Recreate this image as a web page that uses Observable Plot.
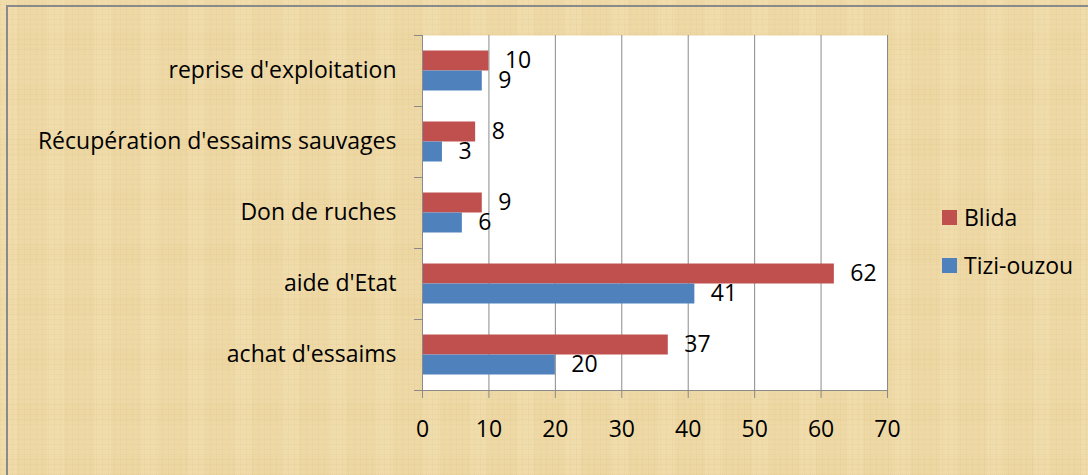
<!DOCTYPE html>
<html>
<head>
<meta charset="utf-8">
<script src="https://cdn.jsdelivr.net/npm/d3@7"></script>
<script src="https://cdn.jsdelivr.net/npm/@observablehq/plot@0.6"></script>
<style>
  html, body { margin: 0; padding: 0; width: 1088px; height: 475px; overflow: hidden; }
  body { background: #eed9a6; position: relative; font-family: "Open Sans", Lato, sans-serif; }
  #bg {
    position: absolute; left: 0; top: 0; width: 1088px; height: 475px;
    background-color: #eed9a6;
    background-image:
      repeating-linear-gradient(0deg, rgba(190,150,80,0.06) 0px, rgba(190,150,80,0.06) 1px, transparent 1px, transparent 5px),
      repeating-linear-gradient(90deg, rgba(190,150,80,0.06) 0px, rgba(190,150,80,0.06) 1px, transparent 1px, transparent 6px),
      repeating-linear-gradient(90deg, rgba(255,240,205,0.14) 0px, rgba(255,240,205,0.14) 17px, transparent 17px, transparent 47px),
      repeating-linear-gradient(0deg, rgba(215,180,110,0.06) 0px, rgba(215,180,110,0.06) 19px, transparent 19px, transparent 53px);
  }
  #border { position: absolute; left: 6px; top: 5px; width: 1090px; height: 480px; border-left: 2px solid #8a8a8a; border-top: 2px solid #8a8a8a; }
  #chart { position: absolute; left: 0; top: 0; }
  #legend { position: absolute; left: 942px; top: 202px; font-family: "Open Sans", sans-serif; font-size: 23px; color: #000; }
  #legend .item { display: flex; align-items: center; height: 30px; margin-bottom: 18px; }
  #legend .sw { width: 15px; height: 15px; margin-right: 7px; }
</style>
</head>
<body>
<div id="bg"></div>
<div id="border"></div>
<div id="chart"></div>
<div id="legend"></div>
<script>
const categories = ["reprise d'exploitation", "Récupération d'essaims sauvages", "Don de ruches", "aide d'Etat", "achat d'essaims"];
const blida = [10, 8, 9, 62, 37];
const tiziOuzou = [9, 3, 6, 41, 20];
const series = ["Blida", "Tizi-ouzou"];
const seriesColors = ["#C0504D", "#4F81BD"];
const xTicks = [0, 10, 20, 30, 40, 50, 60, 70];

const blidaData = categories.map((c, i) => ({cat: c, v: blida[i]}));
const tiziData = categories.map((c, i) => ({cat: c, v: tiziOuzou[i]}));

const gray = "#8a8a8a";
const font = "'Open Sans', Lato, sans-serif";
const chart = Plot.plot({
  width: 1088,
  height: 475,
  marginLeft: 422,
  marginRight: 201,
  marginTop: 35,
  marginBottom: 85,
  x: {domain: [0, 70]},
  y: {domain: categories, padding: 0},
  style: {fontFamily: font, fontSize: "23px", background: "transparent", color: "#000", overflow: "visible"},
  marks: [
    Plot.frame({fill: "white", stroke: null}),
    Plot.gridX(xTicks.slice(1), {stroke: gray, strokeOpacity: 1}),
    Plot.barX(blidaData, {x: "v", y: "cat", fill: seriesColors[0], insetTop: 15.5, insetBottom: 35.5}),
    Plot.barX(tiziData, {x: "v", y: "cat", fill: seriesColors[1], insetTop: 35.5, insetBottom: 15.5}),
    Plot.text(blidaData, {x: "v", y: "cat", text: d => String(d.v), dx: 16, dy: -10, textAnchor: "start", fill: "#000", fontSize: 23}),
    Plot.text(tiziData, {x: "v", y: "cat", text: d => String(d.v), dx: 16, dy: 10, textAnchor: "start", fill: "#000", fontSize: 23}),
    Plot.frame({anchor: "left", stroke: gray, strokeOpacity: 1}),
    Plot.frame({anchor: "bottom", stroke: gray, strokeOpacity: 1}),
    Plot.axisX(xTicks, {tickSize: 8, tickPadding: 22, stroke: gray, strokeOpacity: 1, fill: "#000", label: null, tickFormat: d => String(d)}),
    Plot.axisY({tickSize: 0, tickPadding: 26, label: null, fill: "#000"}),
    Plot.axisY({tickSize: 8, text: null, label: null, dy: -35.5, stroke: gray, strokeOpacity: 1}),
    Plot.axisY({tickSize: 8, text: null, label: null, dy: 35.5, stroke: gray, strokeOpacity: 1})
  ]
});
document.getElementById("chart").appendChild(chart);

const legend = document.getElementById("legend");
series.forEach((s, i) => {
  const item = document.createElement("div");
  item.className = "item";
  const sw = document.createElement("span");
  sw.className = "sw";
  sw.style.background = seriesColors[i];
  const t = document.createElement("span");
  t.textContent = s;
  item.appendChild(sw);
  item.appendChild(t);
  legend.appendChild(item);
});
</script>
</body>
</html>
